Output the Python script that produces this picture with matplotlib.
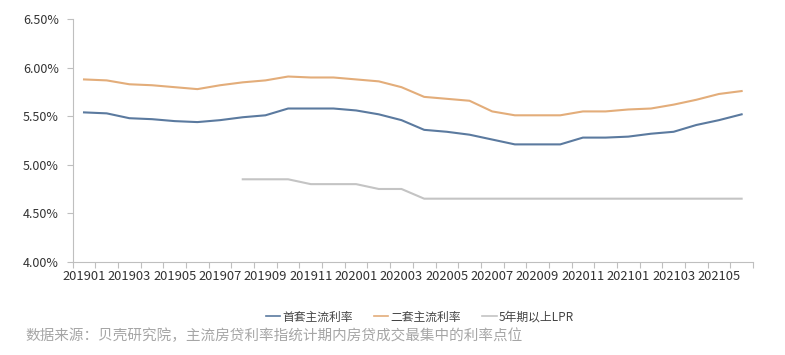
import numpy as np
import matplotlib.pyplot as plt

plt.rcParams['font.family'] = ['Noto Sans CJK SC', 'DejaVu Sans']

# monthly labels 201901 .. 202106
months = [f"{y}{m:02d}" for y in (2019, 2020, 2021) for m in range(1, 13)][:30]

first_home = [5.54, 5.53, 5.48, 5.47, 5.45, 5.44, 5.46, 5.49, 5.51, 5.58,
              5.58, 5.58, 5.56, 5.52, 5.46, 5.36, 5.34, 5.31, 5.26, 5.21,
              5.21, 5.21, 5.28, 5.28, 5.29, 5.32, 5.34, 5.41, 5.46, 5.52]
second_home = [5.88, 5.87, 5.83, 5.82, 5.80, 5.78, 5.82, 5.85, 5.87, 5.91,
               5.90, 5.90, 5.88, 5.86, 5.80, 5.70, 5.68, 5.66, 5.55, 5.51,
               5.51, 5.51, 5.55, 5.55, 5.57, 5.58, 5.62, 5.67, 5.73, 5.76]
lpr_5y = [np.nan] * 7 + [4.85, 4.85, 4.85, 4.80, 4.80, 4.80, 4.75, 4.75] + [4.65] * 15

series_names = ["首套主流利率", "二套主流利率", "5年期以上LPR"]
colors = ["#5b7a9f", "#e3ad7a", "#c4c4c4"]

x = np.arange(len(months))

fig = plt.figure(figsize=(7.85, 3.55), dpi=100)
ax = fig.add_axes([0.0926, 0.2628, 0.8666, 0.6828])

for vals, name, c in zip([first_home, second_home, lpr_5y], series_names, colors):
    ax.plot(x, vals, color=c, lw=1.5, label=name)

ax.set_xlim(-0.5, len(months) - 0.5)
ax.set_ylim(4.0, 6.5)
ax.set_yticks(np.arange(4.0, 6.51, 0.5))
ax.set_yticklabels([f"{v:.2f}%" for v in np.arange(4.0, 6.51, 0.5)])

# ticks between categories, labels on every second month
ax.set_xticks(np.arange(-0.5, len(months), 1.0))
ax.set_xticklabels([])
ax.set_xticks(x[::2], minor=True)
ax.set_xticklabels(months[::2], minor=True)
ax.tick_params(axis='x', which='major', length=4, color='#bfbfbf')
ax.tick_params(axis='x', which='minor', length=0, pad=6, labelsize=9.3, labelcolor='#333333')
ax.tick_params(axis='y', length=4, color='#bfbfbf', labelsize=9, labelcolor='#333333', pad=6)

for s in ['top', 'right']:
    ax.spines[s].set_visible(False)
for s in ['left', 'bottom']:
    ax.spines[s].set_color('#bfbfbf')

leg = fig.legend(loc='center', bbox_to_anchor=(0.535, 0.107), ncol=3, frameon=False,
                 fontsize=8.5, handlelength=1.2, handletextpad=0.2, columnspacing=1.8,
                 labelcolor='#444444')
for h in leg.get_lines():
    h.set_linewidth(1.2)

fig.text(25 / 785, 1 - 336 / 355, "数据来源：贝壳研究院，主流房贷利率指统计期内房贷成交最集中的利率点位",
         fontsize=10.5, color='#a6a6a6', va='center', ha='left')

fig.savefig("out.png", dpi=100)
